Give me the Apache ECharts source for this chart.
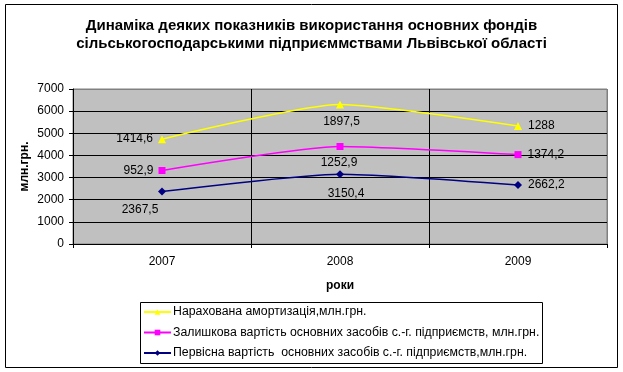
<!DOCTYPE html>
<html>
<head>
<meta charset="utf-8">
<script src="https://cdn.jsdelivr.net/npm/echarts@6/dist/echarts.min.js"></script>
<style>
html,body{margin:0;padding:0;background:#fff;}
#c{width:623px;height:372px;}
</style>
</head>
<body>
<div id="c"></div>
<script>
// ---- data ----
var years = ['2007', '2008', '2009'];
var pervisna = [2367.5, 3150.4, 2662.2];     // Первісна вартість
var zalyshkova = [952.9, 1252.9, 1374.2];    // Залишкова вартість
var amortyzatsiia = [1414.6, 1897.5, 1288];  // Нарахована амортизація
var yTicks = [0, 1000, 2000, 3000, 4000, 5000, 6000, 7000];
var names = {
  amort: 'Нарахована амортизація,млн.грн.',
  zal: 'Залишкова вартість основних засобів с.-г. підприємств, млн.грн.',
  perv: 'Первісна вартість  основних засобів с.-г. підприємств,млн.грн.'
};
var titleLines = ['Динаміка деяких показників використання основних фондів',
                  'сільськогосподарськими підприєммствами Львівської області'];

var FONT = 'Liberation Sans, Arial, sans-serif';
function fmt(v) { return String(v).replace('.', ','); }

// label placement per point (style only)
function lbl(pos, offset, dist) {
  var o = { show: true, position: pos, color: '#000', fontFamily: FONT, fontSize: 12,
            formatter: function (p) { return fmt(p.value); } };
  if (offset) o.offset = offset;
  if (dist != null) o.distance = dist;
  return o;
}
function items(vals, labels) {
  return vals.map(function (v, i) { return { value: v, label: labels[i] }; });
}

var chart = echarts.init(document.getElementById('c'), null, { renderer: 'canvas' });
chart.setOption({
  backgroundColor: '#fff',
  animation: false,
  title: {
    text: titleLines.join('\n'),
    left: 'center', top: 12,
    textStyle: { fontFamily: FONT, fontSize: 15, fontWeight: 'bold', color: '#000', lineHeight: 18 }
  },
  graphic: [
    { type: 'rect', shape: { x: 5.5, y: 4.5, width: 612, height: 363 },
      style: { fill: 'none', stroke: '#000', lineWidth: 1 }, silent: true },
    { type: 'rect', shape: { x: 140.5, y: 302.5, width: 402, height: 61 },
      style: { fill: 'none', stroke: '#000', lineWidth: 1 }, silent: true }
  ],
  legend: {
    orient: 'vertical', left: 143, top: 305,
    padding: 0, itemGap: 6.5, itemWidth: 27, itemHeight: 7,
    data: [names.amort, names.zal, names.perv],
    textStyle: { fontFamily: FONT, fontSize: 12.3, color: '#000', lineHeight: 14, padding: [0, 0, 0, -3] }
  },
  grid: {
    left: 73, right: 16, top: 89, bottom: 128,
    show: true, backgroundColor: '#C0C0C0', borderColor: '#808080', borderWidth: 1
  },
  xAxis: {
    type: 'category', data: years, boundaryGap: true,
    name: 'роки', nameLocation: 'middle', nameGap: 36,
    nameTextStyle: { fontFamily: FONT, fontSize: 12, fontWeight: 'bold', color: '#000' },
    axisLine: { lineStyle: { color: '#000', width: 1 } },
    axisTick: { show: true, length: 4, lineStyle: { color: '#000' } },
    axisLabel: { fontFamily: FONT, fontSize: 12, color: '#000', margin: 12 },
    splitLine: { show: true, lineStyle: { color: ['#000', '#000', '#000', '#808080'], width: 1 } }
  },
  yAxis: {
    type: 'value', min: yTicks[0], max: yTicks[yTicks.length - 1], interval: yTicks[1] - yTicks[0],
    name: 'млн.грн.', nameLocation: 'middle', nameGap: 42, nameRotate: 90, nameMoveOverlap: false,
    nameTextStyle: { fontFamily: FONT, fontSize: 12, fontWeight: 'bold', color: '#000' },
    axisLine: { show: true, lineStyle: { color: '#000', width: 1 } },
    axisTick: { show: true, length: 4, lineStyle: { color: '#000' } },
    axisLabel: { fontFamily: FONT, fontSize: 12, color: '#000', margin: 9,
                 formatter: function (v) { return String(v); } },
    splitLine: { show: true, lineStyle: { color: ['#000', '#000', '#000', '#000', '#000', '#000', '#000', '#808080'], width: 1 } }
  },
  series: [
    {
      name: names.perv, type: 'line', stack: 'total', smooth: 0.2,
      symbol: 'diamond', symbolSize: 8,
      lineStyle: { color: '#000080', width: 1.5 }, itemStyle: { color: '#000080' },
      data: items(pervisna, [lbl('inside', [-22, 18]), lbl('inside', [6, 19]), lbl('right', null, 6)])
    },
    {
      name: names.zal, type: 'line', stack: 'total', smooth: 0.2,
      symbol: 'rect', symbolSize: 7,
      lineStyle: { color: '#FF00FF', width: 1.5 }, itemStyle: { color: '#FF00FF' },
      data: items(zalyshkova, [lbl('left', null, 5), lbl('inside', [-1, 16]), lbl('right', null, 6)])
    },
    {
      name: names.amort, type: 'line', stack: 'total', smooth: 0.2,
      symbol: 'triangle', symbolSize: 8,
      lineStyle: { color: '#FFFF00', width: 1.5 }, itemStyle: { color: '#FFFF00' },
      data: items(amortyzatsiia, [lbl('left', null, 5), lbl('inside', [1.5, 17]), lbl('right', null, 6)])
    }
  ]
});
</script>
</body>
</html>
